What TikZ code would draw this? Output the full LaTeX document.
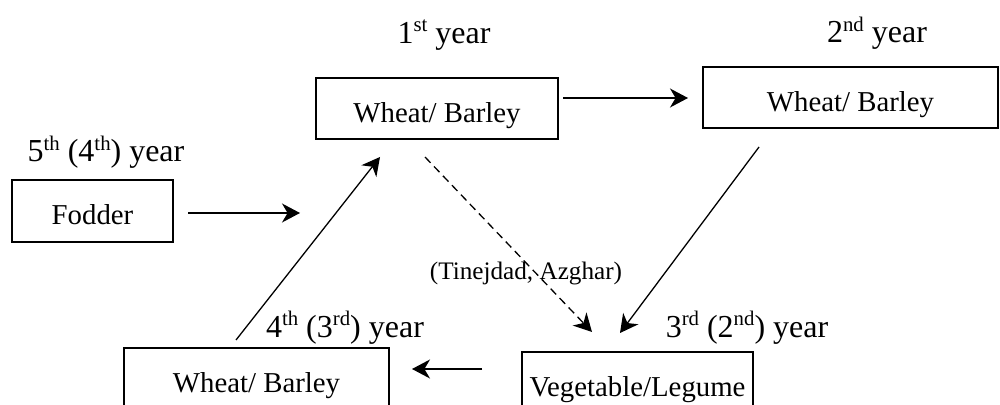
\documentclass[tikz,border=0pt]{standalone}
\usepackage{fontspec}
\setmainfont{Liberation Serif}
\usetikzlibrary{arrows.meta,positioning}
\newcommand\yrsup[1]{\raisebox{0.36em}{\fontsize{10.4}{12}\selectfont #1}}

\begin{document}
\begin{tikzpicture}[x=0.5pt,y=-0.5pt, every node/.style={font=\fontsize{14.4}{17}\selectfont,align=center}, box/.style={draw,line width=0.6pt,inner sep=0pt,minimum height=30.5pt,text height=14pt,text depth=0pt}, lbl/.style={anchor=base,inner sep=0pt,font=\fontsize{16}{19}\selectfont}, arr/.style={-{Stealth[length=9pt,width=9.5pt,inset=2.8pt]},line width=0.65pt}]
\clip (0,0) rectangle (1000,405);
\node[box,minimum width=121pt] (wheat1) at (437,108.5) {Wheat/ Barley};
\node[box,minimum width=147.5pt] (wheat2) at (850.5,97.5) {Wheat/ Barley};
\node[box,minimum width=80.5pt,minimum height=31pt] (fodder) at (92.5,211) {Fodder};
\node[box,minimum width=132.5pt] (wheat4) at (256.5,378.5) {Wheat/ Barley};
\node[box,minimum width=115.5pt] (veg) at (637.5,382.5) {Vegetable/Legume};
\node[lbl] (y1) at (444,43.5) {1\yrsup{st} year};
\node[lbl] (y2) at (877,43) {2\yrsup{nd} year};
\node[lbl] (y5) at (106,162) {5\yrsup{th} (4\yrsup{th}) year};
\node[lbl] (y4) at (345,337) {4\yrsup{th} (3\yrsup{rd}) year};
\node[lbl] (y3) at (747,337) {3\yrsup{rd} (2\yrsup{nd}) year};
\node[lbl,font=\fontsize{12.6}{15}\selectfont] (oasis) at (526,280) {(Tinejdad, Azghar)};
% free ends of the arrows
\coordinate (a1) at (563,98); \coordinate (a2) at (688,98);
\coordinate (f1) at (188,213); \coordinate (f2) at (300,213);
\coordinate (u1) at (236,340); \coordinate (u2) at (380,157);
\coordinate (d1) at (425,157); \coordinate (d2) at (592,332);
\coordinate (s1) at (759,147); \coordinate (s2) at (620,333);
\coordinate (b1) at (482,369); \coordinate (b2) at (412,369);
\draw[arr] (a1)--(a2);\draw[arr](f1)--(f2);\draw[arr](u1)--(u2);\draw[arr,dash pattern=on 4pt off 2.5pt](d1)--(d2);\draw[arr](s1)--(s2);\draw[arr](b1)--(b2);
\end{tikzpicture}
\end{document}
